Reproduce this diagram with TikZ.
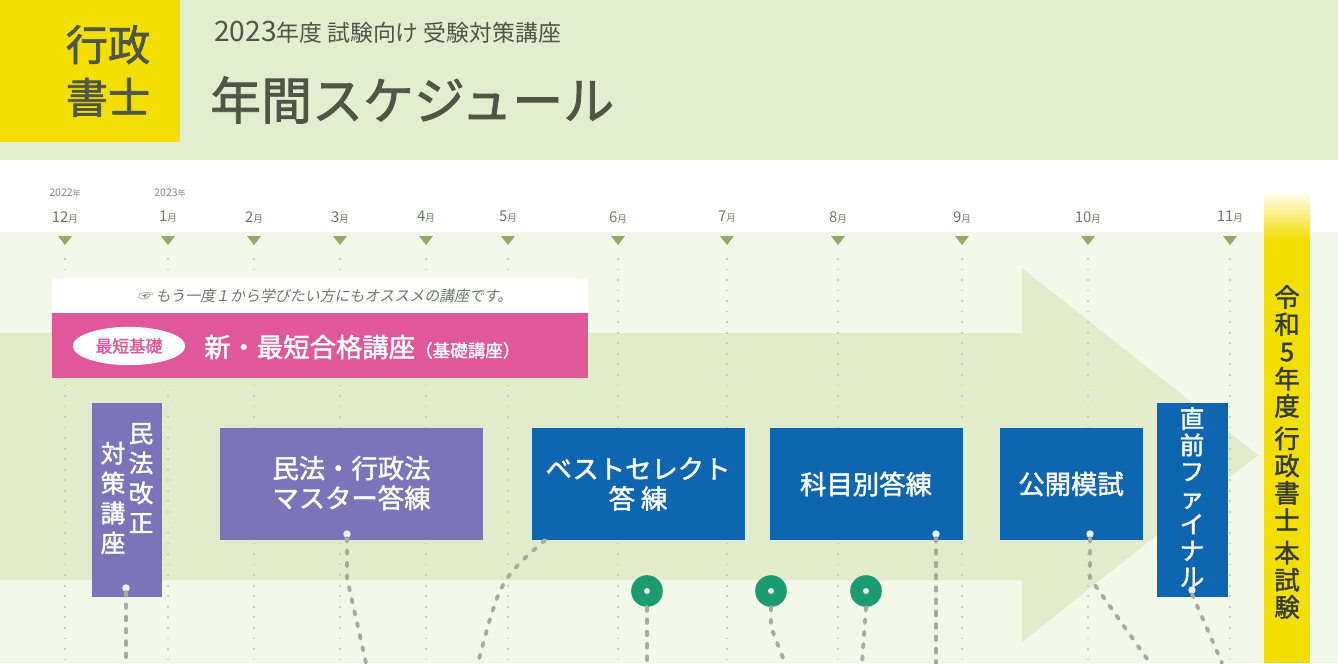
\documentclass[tikz,border=0pt]{standalone}
\usepackage{fontspec}
\setmainfont{Noto Sans CJK JP}
\newfontfamily\jpbold[FakeBold=1.6]{Noto Sans CJK JP}
\newfontfamily\jpslant[FakeSlant=0.2]{Noto Sans CJK JP}
\usetikzlibrary{positioning,shapes.geometric}
\definecolor{topgreen}{HTML}{E3EDCF}
\definecolor{palegreen}{HTML}{F3F8E8}
\definecolor{arrowgreen}{HTML}{E2ECCD}
\definecolor{markgreen}{HTML}{93A86A}
\definecolor{titlegrey}{HTML}{4F5646}
\definecolor{labelyellow}{HTML}{F2DE00}
\definecolor{coursepink}{HTML}{E0579A}
\definecolor{coursepurple}{HTML}{7B74B8}
\definecolor{courseblue}{HTML}{0F66B0}
\definecolor{dotgreen}{HTML}{1B9B70}
\definecolor{dotgrey}{HTML}{A8AAA0}

\tikzset{
  coursetext/.style={text=white, font=\jpbold\fontsize{15}{17}\selectfont, align=center},
  stacktext/.style={text=white, font=\jpbold\fontsize{14}{17}\selectfont, align=center},
  month/.style={text=titlegrey!80, font=\fontsize{8.5}{8.5}\selectfont},
  year/.style={text=titlegrey!70, font=\fontsize{6}{6}\selectfont},
  gridline/.style={dotgrey!60, line width=1pt, dash pattern=on 1pt off 5pt},
  feed/.style={dotgrey, line width=2.2pt, dash pattern=on 2pt off 5pt, line cap=round},
  pin/.style={circle, fill=white!80!dotgrey, inner sep=1.5pt},
  bubble/.style={circle, fill=dotgreen, minimum size=18pt, inner sep=0pt},
}

\begin{document}
\begin{tikzpicture}[x=0.02cm, y=-0.02cm]
  \useasboundingbox (0,0) rectangle (1338,663);

  % background bands
  \fill[topgreen] (0,0) rectangle (1338,160);
  \fill[white] (0,160) rectangle (1338,232);
  \fill[palegreen] (0,232) rectangle (1338,663);
  \fill[arrowgreen] (0,333) -- (1022,333) -- (1022,268) -- (1258,455) -- (1022,642) -- (1022,580) -- (0,580) -- cycle;

  % heading
  \fill[labelyellow] (0,0) rectangle (180,142);
  \node[text=titlegrey, font=\jpbold\fontsize{24}{30}\selectfont, align=center] (badge) at (108,71) {行政\\書士};
  \node[anchor=west, text=titlegrey, font=\fontsize{16}{16}\selectfont] (subtitle) at (208,32) {2023{\fontsize{13}{13}\selectfont 年度 試験向け 受験対策講座}};
  \node[anchor=west, text=titlegrey, font=\jpbold\fontsize{29}{29}\selectfont] (title) at (204,100) {年間スケジュール};

  % months
  \foreach \mx/\mname in {65/12, 168/1, 254/2, 340/3, 426/4, 508/5, 618/6, 727/7, 838/8, 962/9, 1088/10, 1230/11} {
    \node[month] (m\mname) at (\mx,217) {\mname{\fontsize{5.5}{5.5}\selectfont 月}};
    \fill[markgreen] (\mx-7,236) -- (\mx+7,236) -- (\mx,245) -- cycle;
    \draw[gridline] (\mx,258) -- (\mx,663);
  }
  \node[year] (y2022) at (65,193) {2022{\fontsize{4.5}{4.5}\selectfont 年}};
  \node[year] (y2023) at (170,193) {2023{\fontsize{4.5}{4.5}\selectfont 年}};

  % exam day
  \shade[top color=white, bottom color=labelyellow] (1264,190) rectangle (1310,240);
  \fill[labelyellow] (1264,240) rectangle (1310,663);
  \node[text=titlegrey!70!black, font=\jpbold\fontsize{14.5}{15.5}\selectfont, align=center] (exam) at (1287,452) {令\\和\\5\\年\\度\\[3pt]行\\政\\書\\士\\[3pt]本\\試\\験};

  % basic course
  \fill[white] (52,278) rectangle (588,313);
  \node[text=titlegrey!80, font=\jpslant\fontsize{8.5}{8.5}\selectfont] (note) at (325,296) {☞ もう一度１から学びたい方にもオススメの講座です。};
  \fill[coursepink] (52,313) rectangle (588,378);
  \node[ellipse, fill=white, minimum width=64pt, minimum height=21pt, text=coursepink, font=\jpbold\fontsize{9.5}{9.5}\selectfont] (tag) at (129,346) {最短基礎};
  \node[anchor=west, text=white, font=\jpbold\fontsize{15}{15}\selectfont] (basic) at (198,347) {新・最短合格講座{\fontsize{10}{10}\selectfont（基礎講座）}};

  % courses
  \fill[coursepurple] (92,403) rectangle (162,597);
  \node[stacktext] (revA) at (141,478) {民\\法\\改\\正};
  \node[stacktext] (revB) at (113,498) {対\\策\\講\\座};
  \fill[coursepurple] (220,428) rectangle (483,540);
  \node[coursetext] (master) at (351.5,483) {民法・行政法\\マスター答練};
  \fill[courseblue] (532,428) rectangle (745,540);
  \node[coursetext] (best) at (638,484) {ベストセレクト\\答 練};
  \fill[courseblue] (770,428) rectangle (963,540);
  \node[coursetext] (subject) at (866,484) {科目別答練};
  \fill[courseblue] (1000,428) rectangle (1143,540);
  \node[coursetext] (mock) at (1071,484) {公開模試};
  \fill[courseblue] (1157,403) rectangle (1228,597);
  \node[stacktext, font=\jpbold\fontsize{14}{15}\selectfont] (final) at (1192,497) {直\\前\\フ\\ァ\\イ\\ナ\\ル};

  % pins and bubbles
  \node[pin] (p1) at (126,588) {};
  \node[pin] (p2) at (347,534) {};
  \node[pin] (p3) at (936,534) {};
  \node[pin] (p4) at (1090,534) {};
  \node[pin] (p5) at (1192,590) {};
  \node[bubble] (b1) at (647,591) {};
  \node[bubble] (b2) at (771,591) {};
  \node[bubble] (b3) at (866,591) {};
  \foreach \b in {b1,b2,b3} \node[pin, inner sep=1.2pt] at (\b) {};
  \coordinate (s1) at (545,540);

  % feeds
  \coordinate (e1) at (126,663);
  \coordinate (e2) at (366,663);
  \coordinate (e3) at (478,663);
  \coordinate (e4) at (647,663);
  \coordinate (e5) at (785,663);
  \coordinate (e6) at (862,663);
  \coordinate (e7) at (936,663);
  \coordinate (e8) at (1150,663);
  \coordinate (e9) at (1222,663);
  \draw[feed] (p1.south) -- (e1);
  \draw[feed] (p2.south) -- ++(0,40) -- (e2);
  \draw[feed] (s1) .. controls (500,580) .. (e3);
  \draw[feed] (b1.south) -- (e4);
  \draw[feed] (b2.south) -- ++(0,20) -- (e5);
  \draw[feed] (b3.south) -- (e6);
  \draw[feed] (p3.south) -- (e7);
  \draw[feed] (p4.south) -- ++(0,40) -- (e8);
  \draw[feed] (p5.south) -- (e9);
\end{tikzpicture}
\end{document}
